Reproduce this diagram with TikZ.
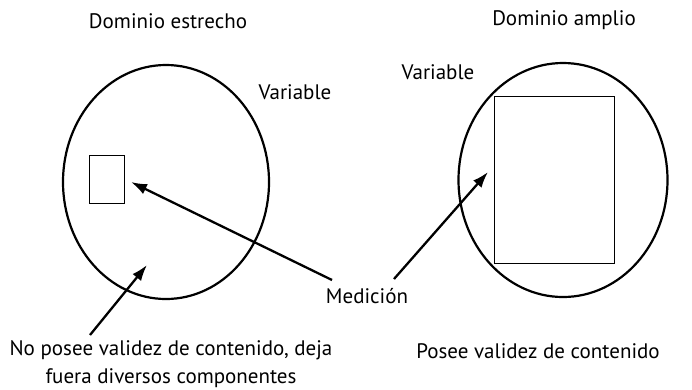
\documentclass[tikz,border=0pt]{standalone}
\usepackage{fontspec}
\setmainfont{PT Sans}
\usetikzlibrary{arrows.meta,positioning,calc,shapes.geometric}

\begin{document}
\begin{tikzpicture}[x=1pt, y=-1pt,
    txt/.style={font=\fontsize{21}{28}\selectfont, inner sep=0pt, align=center},
    field/.style={ellipse, draw=black, line width=2.2pt, inner sep=0pt},
    probe/.style={rectangle, draw=black, line width=0.9pt, inner sep=0pt},
    flow/.style={-{Latex[length=16pt,width=11pt]}, line width=2.3pt}
]
\useasboundingbox (0,0) rectangle (692,389);
% left: narrow domain
\node[txt] (tnarrow) at (168,21) {Dominio estrecho};
\node[field, minimum width=206pt, minimum height=234pt] (narrow) at (166,182) {};
\node[txt] (vnarrow) at (295,92) {Variable};
\node[probe, minimum width=35pt, minimum height=48pt] (nbox) at (106.5,179) {};
% right: wide domain
\node[txt] (twide) at (564,20) {Dominio amplio};
\node[field, minimum width=209pt, minimum height=234pt] (wide) at (563,180) {};
\node[txt] (vwide) at (438,72) {Variable};
\node[probe, minimum width=120pt, minimum height=167pt] (wbox) at (554,179.5) {};
% labels below
\node[txt] (meas) at (367,296) {Medición};
\node[txt] (nolack) at (171,364) {No posee validez de contenido, deja\\fuera diversos componentes};
\node[txt] (valid) at (538,351) {Posee validez de contenido};
% arrows
\coordinate (ntip) at (131,182);
\coordinate (wtip) at (488,172);
\coordinate (ltip) at (147,265);
\coordinate (m1) at (332,280);
\coordinate (m2) at (394,279);
\coordinate (l1) at (90,335);
\draw[flow] (m1) -- (ntip);
\draw[flow] (m2) -- (wtip);
\draw[flow] (l1) -- (ltip);
\end{tikzpicture}
\end{document}
